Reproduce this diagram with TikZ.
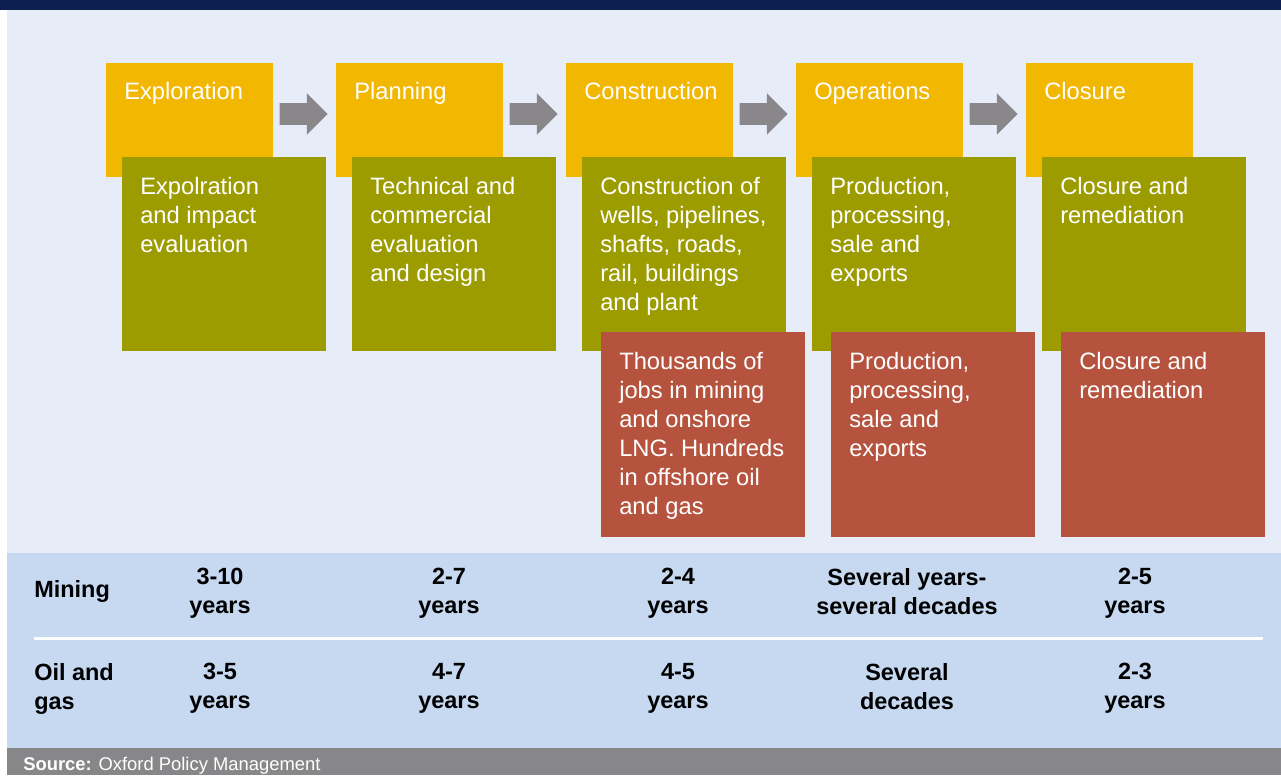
\documentclass[tikz,border=0pt]{standalone}
\usepackage{fontspec}
\setmainfont{Liberation Sans}
\usetikzlibrary{positioning}
\usetikzlibrary{shapes.arrows}
\usetikzlibrary{calc}
\definecolor{navyc}{HTML}{0D1F4F}
\definecolor{panelc}{HTML}{E6EDF8}
\definecolor{bandc}{HTML}{C6D9F1}
\definecolor{footc}{HTML}{878688}
\definecolor{stagec}{HTML}{F2B700}
\definecolor{actc}{HTML}{9C9C00}
\definecolor{jobc}{HTML}{B5533E}
\definecolor{arrowc}{HTML}{8A878A}

\tikzset{
  box/.style={inner sep=0pt, outer sep=0pt, anchor=north west},
  stagebox/.style={box, fill=stagec, minimum width=125.25pt, minimum height=85.5pt},
  actbox/.style={box, fill=actc, minimum width=153pt, minimum height=145.5pt},
  jobbox/.style={box, fill=jobc, minimum width=153pt, minimum height=153.75pt},
  boxtext/.style={text=white, inner sep=0pt, align=left, font=\fontsize{17.8}{21.75}\selectfont},
  stagearrow/.style={single arrow, fill=arrowc, inner xsep=0pt, inner ysep=7.875pt,
    minimum width=30.75pt, minimum height=36pt, single arrow head extend=7.5pt, anchor=tip},
  rowlabel/.style={inner sep=0pt, align=left, font=\bfseries\fontsize{17.6}{21.75}\selectfont},
  yrs/.style={anchor=north, inner sep=0pt, align=center, font=\bfseries\fontsize{17.6}{21.75}\selectfont}
}

\begin{document}
\begin{tikzpicture}[x=0.75pt, y=-0.75pt]
\useasboundingbox (0,0) rectangle (1281,775);

% background bands
\fill[white] (0,0) rectangle (1281,775);
\fill[navyc] (0,0) rectangle (1281,10);
\fill[panelc] (7,10) rectangle (1281,553);
\fill[bandc] (7,553) rectangle (1281,748);
\fill[footc] (7,748) rectangle (1281,775);

% stages
\node[stagebox] (expl) at (106,63) {};
\node[stagebox] (plan) at (336,63) {};
\node[stagebox] (cons) at (566,63) {};
\node[stagebox] (oper) at (796,63) {};
\node[stagebox] (clos) at (1026,63) {};

\node[boxtext, below right=14.25pt and 13.5pt of expl.north west] {Exploration};
\node[boxtext, below right=14.25pt and 13.5pt of plan.north west] {Planning};
\node[boxtext, below right=14.25pt and 13.5pt of cons.north west] {Construction};
\node[boxtext, below right=14.25pt and 13.5pt of oper.north west] {Operations};
\node[boxtext, below right=14.25pt and 13.5pt of clos.north west] {Closure};

% arrows between stages
\node[stagearrow] (a1) at ($(plan.west)+(-8,-6)$) {};
\node[stagearrow] (a2) at ($(cons.west)+(-8,-6)$) {};
\node[stagearrow] (a3) at ($(oper.west)+(-8,-6)$) {};
\node[stagearrow] (a4) at ($(clos.west)+(-8,-6)$) {};

% activities
\node[actbox] (explact) at (122,157) {};
\node[actbox] (planact) at (352,157) {};
\node[actbox] (consact) at (582,157) {};
\node[actbox] (operact) at (812,157) {};
\node[actbox] (closact) at (1042,157) {};

\node[boxtext, below right=15pt and 13.5pt of explact.north west] {Expolration\\and impact\\evaluation};
\node[boxtext, below right=15pt and 13.5pt of planact.north west] {Technical and\\commercial\\evaluation\\and design};
\node[boxtext, below right=15pt and 13.5pt of consact.north west] {Construction of\\wells, pipelines,\\shafts, roads,\\rail, buildings\\and plant};
\node[boxtext, below right=15pt and 13.5pt of operact.north west] {Production,\\processing,\\sale and\\exports};
\node[boxtext, below right=15pt and 13.5pt of closact.north west] {Closure and\\remediation};

% jobs
\node[jobbox] (consjob) at (601,332) {};
\node[jobbox] (operjob) at (831,332) {};
\node[jobbox] (closjob) at (1061,332) {};

\node[boxtext, below right=15pt and 13.5pt of consjob.north west] {Thousands of\\jobs in mining\\and onshore\\LNG. Hundreds\\in offshore oil\\and gas};
\node[boxtext, below right=15pt and 13.5pt of operjob.north west] {Production,\\processing,\\sale and\\exports};
\node[boxtext, below right=15pt and 13.5pt of closjob.north west] {Closure and\\remediation};

% durations
\node[rowlabel, anchor=west] (mine) at (34,591) {Mining};
\node[yrs] (m1) at (220,568) {3-10\\years};
\node[yrs] (m2) at (449,568) {2-7\\years};
\node[yrs] (m3) at (678,568) {2-4\\years};
\node[yrs] (m4) at (907,568) {Several years-\\several decades};
\node[yrs] (m5) at (1135,568) {2-5\\years};

\coordinate (sepl) at (34,638);
\coordinate (sepr) at (1263,638);
\draw[white, line width=2.25pt] (sepl) -- (sepr);

\node[rowlabel, anchor=north west] (oil) at (34,663) {Oil and\\gas};
\node[yrs] (o1) at (220,663) {3-5\\years};
\node[yrs] (o2) at (449,663) {4-7\\years};
\node[yrs] (o3) at (678,663) {4-5\\years};
\node[yrs] (o4) at (907,663) {Several\\decades};
\node[yrs] (o5) at (1135,663) {2-3\\years};

% source
\node[anchor=west, inner sep=0pt, text=white, font=\fontsize{13.8}{16}\selectfont] (src) at (23,766)
  {\textbf{Source:} Oxford Policy Management};
\end{tikzpicture}
\end{document}
